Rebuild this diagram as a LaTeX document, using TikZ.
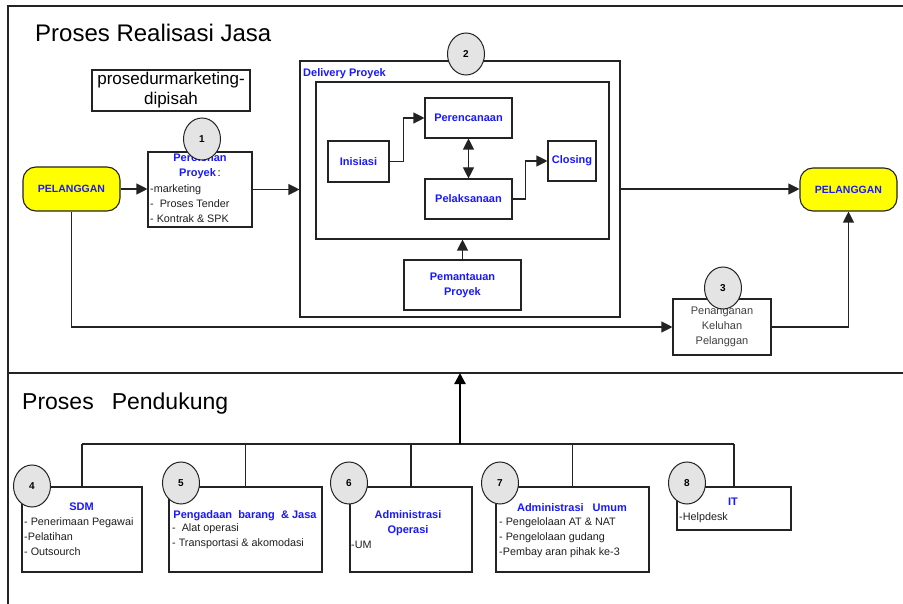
\documentclass[tikz,border=0pt]{standalone}
\usepackage{fontspec}
\setmainfont{Liberation Sans}
\usetikzlibrary{shapes.geometric,arrows.meta}

\definecolor{ink}{RGB}{35,35,35}
\definecolor{lblue}{RGB}{25,25,255}
\definecolor{bubble}{RGB}{228,228,228}
\definecolor{hilite}{RGB}{255,255,0}

% stacked text lines, first baseline at the node's base anchor
\newcommand{\leftlines}[1]{\begin{tabular}[t]{@{}l@{}}#1\end{tabular}}
\newcommand{\centerlines}[1]{\begin{tabular}[t]{@{}c@{}}#1\end{tabular}}

\tikzset{
  frameline/.style={draw=ink, line width=1.4pt},
  boxline/.style={draw=ink, line width=1.1pt, fill=white, inner sep=0pt, rectangle},
  cust/.style={boxline, fill=hilite, rounded corners=13pt,
    font=\fontsize{10.5}{12}\selectfont\bfseries, text=lblue},
  bubblenode/.style={ellipse, draw=ink, line width=1pt, fill=bubble,
    minimum width=37pt, minimum height=42pt, inner sep=0pt,
    font=\fontsize{10}{12}\selectfont\bfseries},
  bluetag/.style={font=\fontsize{11}{15}\selectfont\bfseries, text=lblue,
    inner sep=0pt, align=center},
  plaintext/.style={font=\fontsize{10.8}{15}\selectfont, text=black!88, inner sep=0pt},
  heading/.style={font=\fontsize{24}{28}\selectfont, inner sep=0pt, anchor=base west},
  flow/.style={draw=ink, line width=1.1pt, -{Triangle[length=11pt,width=11pt]}},
  link/.style={draw=ink, line width=1.1pt},
}

\begin{document}
\begin{tikzpicture}[x=1pt,y=-1pt]
\useasboundingbox (0,0) rectangle (903,604);

% outer frame and section divider
\coordinate (fbl) at (8,604);
\coordinate (ftl) at (8,6);
\coordinate (ftr) at (903,6);
\coordinate (dl) at (8,373);
\coordinate (dr) at (903,373);
\draw[frameline] (fbl) -- (ftl) -- (ftr);
\draw[frameline] (dl) -- (dr);

% section headings
\node[heading] (head1) at (35,42) {Proses Realisasi Jasa};
\node[heading, font=\fontsize{23}{28}\selectfont] (head2) at (22,409) {Proses\hspace{18pt}Pendukung};

% ---------- service realisation ----------
\node[boxline, minimum width=158pt, minimum height=41pt, align=center,
      font=\fontsize{17}{20}\selectfont] (note) at (171,90.5)
      {prosedurmarketing-\\dipisah};

\node[cust, minimum width=97pt, minimum height=44pt] (pel1) at (71.5,189) {PELANGGAN};
\node[cust, minimum width=97pt, minimum height=43pt] (pel2) at (848.5,189.5) {PELANGGAN};

\node[boxline, minimum width=104pt, minimum height=75pt] (perolehan) at (200,189.5) {};
\node[bluetag, anchor=base] (perolehanhead) at (200,162)
      {\centerlines{Perolehan\\Proyek\textcolor{black}{\mdseries\,:}}};
\node[plaintext, anchor=base west] (perolehanlist) at (150,193)
      {\leftlines{-marketing\\-\ \ Proses Tender\\- Kontrak \& SPK}};

\node[boxline, minimum width=320pt, minimum height=256pt] (delivery) at (460,189) {};
\node[bluetag, anchor=base west] (deliveryhead) at (303,77) {Delivery Proyek};
\node[boxline, minimum width=293pt, minimum height=157pt] (inner) at (462.5,160.5) {};

\node[boxline, bluetag, minimum width=61pt, minimum height=41pt] (inisiasi) at (358.5,161.5) {Inisiasi};
\node[boxline, bluetag, minimum width=87pt, minimum height=40pt] (perenc) at (468.5,118) {Perencanaan};
\node[boxline, bluetag, minimum width=87pt, minimum height=40pt] (pelaks) at (468.5,199) {Pelaksanaan};
\node[boxline, bluetag, minimum width=48pt, minimum height=40pt] (closing) at (572,161) {Closing};
\node[boxline, bluetag, minimum width=117pt, minimum height=50pt] (pemantauan) at (462.5,285)
      {Pemantauan\\Proyek};

\node[boxline, plaintext, font=\fontsize{11}{15}\selectfont, text=black!75, align=center,
      minimum width=98pt, minimum height=56pt]
      (penanganan) at (722,327) {Penanganan\\Keluhan\\Pelanggan};

% flow connectors
\draw[flow] (pel1.east) -- (perolehan.west |- pel1.east);
\draw[flow] (perolehan.east) -- (delivery.west |- perolehan.east);
\draw[flow] (delivery.east) -- (pel2.west |- delivery.east);
\draw[flow] (inisiasi.east) -- ++(14,0) |- (perenc.west);
\draw[flow] (pelaks.east) -- ++(13,0) |- (closing.west);
\draw[draw=ink, line width=1.1pt, {Triangle[length=11pt,width=11pt]}-{Triangle[length=11pt,width=11pt]}]
      (perenc.south) -- (pelaks.north);
\draw[flow] (pemantauan.north) -- (pemantauan.north |- inner.south);
\draw[flow] (pel1.south) |- (penanganan.west);
\draw[flow] (penanganan.east) -| (pel2.south);

% process number bubbles
\node[bubblenode] (n1) at (202,139) {1};
\node[bubblenode] (n2) at (466,54) {2};
\node[bubblenode] (n3) at (723,288) {3};

% ---------- support processes ----------
\node[boxline, minimum width=120pt, minimum height=85pt] (b4) at (82,529.5) {};
\node[boxline, minimum width=153pt, minimum height=85pt] (b5) at (245.5,529.5) {};
\node[boxline, minimum width=122pt, minimum height=85pt] (b6) at (411,529.5) {};
\node[boxline, minimum width=153pt, minimum height=85pt] (b7) at (572.5,529.5) {};
\node[boxline, minimum width=114pt, minimum height=43pt] (b8) at (734,508.5) {};

\node[bluetag, anchor=base] (b4head) at (81.5,510) {SDM};
\node[plaintext, anchor=base west] (b4list) at (24,525)
      {\leftlines{-\ Penerimaan Pegawai\\-Pelatihan\\-\ Outsourch}};

\node[bluetag, anchor=base] (b5head) at (245,518) {Pengadaan\ \ barang\ \ \&\ Jasa};
\node[plaintext, anchor=base west] (b5list) at (172,531)
      {\leftlines{-\ \ Alat operasi\\-\ Transportasi \& akomodasi}};

\node[bluetag, anchor=base] (b6head) at (408,518) {\centerlines{Administrasi\\Operasi}};
\node[plaintext, anchor=base west] (b6list) at (351,548) {-UM};

\node[bluetag, anchor=base] (b7head) at (572,511) {Administrasi\hspace{9pt}Umum};
\node[plaintext, anchor=base west] (b7list) at (499,525)
      {\leftlines{- Pengelolaan\ AT \& NAT\\- Pengelolaan gudang\\-Pembay aran pihak ke-3}};

\node[bluetag, anchor=base] (b8head) at (733,505) {IT};
\node[plaintext, anchor=base west] (b8list) at (679,520) {-Helpdesk};

% support bus feeding the realisation section
\coordinate (bus) at (460,444);
\draw[link] (b4.north |- bus) -- (b8.north |- bus);
\foreach \b in {b4,b5,b6,b7,b8} \draw[link] (\b.north) -- (\b.north |- bus);
\draw[draw=black, line width=2.2pt, -{Triangle[length=11pt,width=11pt]}] (bus) -- (bus |- dl);

\node[bubblenode] (n4) at (32,486) {4};
\node[bubblenode] (n5) at (181,483) {5};
\node[bubblenode] (n6) at (349,483) {6};
\node[bubblenode] (n7) at (500,483) {7};
\node[bubblenode] (n8) at (687,483) {8};
\end{tikzpicture}
\end{document}
